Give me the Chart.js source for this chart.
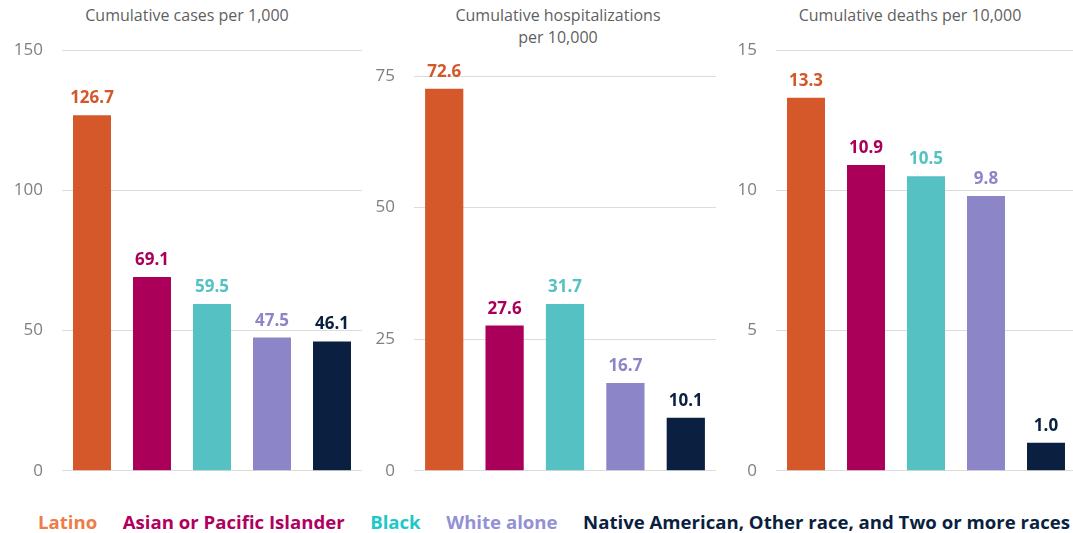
<!DOCTYPE html>
<html>
<head>
<meta charset="utf-8">
<script src="https://cdn.jsdelivr.net/npm/chart.js@4.4.1/dist/chart.umd.min.js"></script>
<style>
  html, body { margin: 0; padding: 0; background: #fff; width: 1073px; height: 533px; overflow: hidden; }
  body { position: relative; font-family: 'Open Sans', sans-serif; }
  canvas { position: absolute; top: 0; }
  .title { position: absolute; font-size: 16px; color: #5f5f5f; text-align: center; line-height: 22px; transform: translateX(-50%); white-space: nowrap; top: 4px; }
  .legend { position: absolute; top: 509px; left: 38px; display: flex; gap: 25.5px; font-size: 18.6px; line-height: 26px; font-weight: 700; white-space: nowrap; }
</style>
</head>
<body>
<div class="title" style="left:187px">Cumulative cases per 1,000</div>
<div class="title" style="left:558px">Cumulative hospitalizations<br>per 10,000</div>
<div class="title" style="left:910px">Cumulative deaths per 10,000</div>
<canvas id="c1" width="372" height="500" style="left:0px"></canvas>
<canvas id="c2" width="370" height="500" style="left:350px"></canvas>
<canvas id="c3" width="364" height="500" style="left:712px"></canvas>
<div class="legend" id="legend"></div>
<script>
const categories = ["Latino", "Asian or Pacific Islander", "Black", "White alone", "Native American, Other race, and Two or more races"];
const casesPer1000 = [126.7, 69.1, 59.5, 47.5, 46.1];
const hospPer10000 = [72.6, 27.6, 31.7, 16.7, 10.1];
const deathsPer10000 = [13.3, 10.9, 10.5, 9.8, 1.0];
const casesTicks = [0, 50, 100, 150];
const hospTicks = [0, 25, 50, 75];
const deathsTicks = [0, 5, 10, 15];

const barColors = ["#D5582A", "#AA005A", "#55C1C2", "#8C86C8", "#0B1F40"];
const labelColors = ["#D4572A", "#A8005A", "#55C1C1", "#8C86C8", "#0B1F40"];
const legendColors = ["#EC7D47", "#B0005F", "#1DC8C8", "#9490D4", "#0B1F40"];

const valueLabels = {
  id: 'valueLabels',
  afterDatasetsDraw(chart) {
    const ctx = chart.ctx;
    const meta = chart.getDatasetMeta(0);
    const data = chart.data.datasets[0].data;
    ctx.save();
    ctx.font = "700 17px 'Open Sans'";
    ctx.textAlign = 'center';
    ctx.textBaseline = 'alphabetic';
    meta.data.forEach((bar, i) => {
      ctx.fillStyle = labelColors[i];
      ctx.fillText(data[i].toFixed(1), bar.x, bar.y - 12);
    });
    ctx.restore();
  }
};

function makeChart(id, values, ticks, padTop, yWidth, padRight) {
  const max = ticks[ticks.length - 1];
  const step = ticks[1] - ticks[0];
  new Chart(document.getElementById(id), {
    type: 'bar',
    data: {
      labels: categories,
      datasets: [{
        data: values,
        backgroundColor: barColors,
        borderWidth: 0,
        categoryPercentage: 1,
        barPercentage: 0.633
      }]
    },
    options: {
      responsive: false,
      animation: false,
      devicePixelRatio: 1,
      layout: { padding: { top: padTop, bottom: 10, left: 0, right: padRight } },
      plugins: { legend: { display: false }, tooltip: { enabled: false } },
      scales: {
        x: { display: false },
        y: {
          min: 0, max: max,
          afterFit: (s) => { s.width = yWidth; },
          afterBuildTicks: (s) => { s.ticks = ticks.map(v => ({ value: v })); },
          ticks: { stepSize: step, padding: 19, color: '#808080', font: { family: "'Open Sans'", size: 17 } },
          grid: { color: '#dcdcdc', lineWidth: 1, drawTicks: false },
          border: { display: false }
        }
      }
    },
    plugins: [valueLabels]
  });
}

makeChart('c1', casesPer1000, casesTicks, 50, 62, 10);
makeChart('c2', hospPer10000, hospTicks, 76, 64, 4);
makeChart('c3', deathsPer10000, deathsTicks, 50, 64, 0);

const legend = document.getElementById('legend');
categories.forEach((c, i) => {
  const s = document.createElement('span');
  s.textContent = c;
  s.style.color = legendColors[i];
  legend.appendChild(s);
});
</script>
</body>
</html>
